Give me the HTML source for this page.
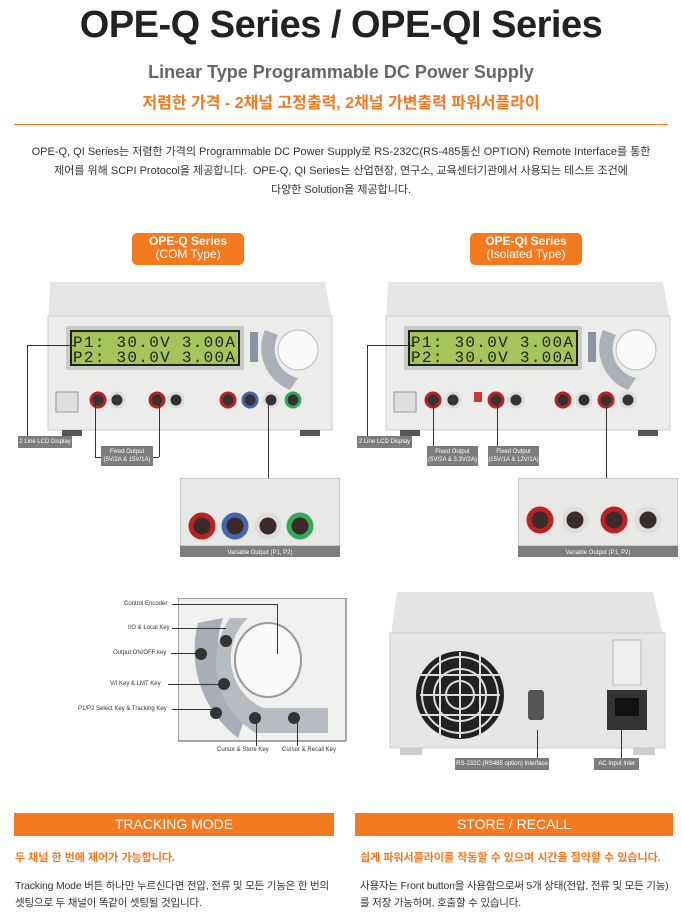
<!DOCTYPE html>
<html><head><meta charset="utf-8"><style>
body{margin:0;width:682px;height:919px;background:#fff;position:relative;overflow:hidden;font-family:"Liberation Sans","Noto Sans CJK KR",sans-serif;}
.a{position:absolute}
.t{text-align:center;left:0;width:682px}
.lbl{position:absolute;background:#7d7d7d;color:#fff;font-size:6px;text-align:center;line-height:8px;padding:2px 0}
.ln{position:absolute;background:#333}
.sm{position:absolute;font-size:6px;color:#333;white-space:nowrap}
.bar{position:absolute;background:#f47a20;color:#fff;font-size:14px;text-align:center;height:23px;line-height:23px}
</style></head><body>
<div class="a t" style="top:4px;font-size:38px;font-weight:bold;color:#222;letter-spacing:-0.5px">OPE-Q Series / OPE-QI Series</div>
<div class="a t" style="top:62px;font-size:18px;font-weight:bold;color:#666">Linear Type Programmable DC Power Supply</div>
<div class="a t" style="top:89px;font-size:16px;font-weight:bold;color:#f47a20">저렴한 가격 - 2채널 고정출력, 2채널 가변출력 파워서플라이</div>
<div class="a" style="left:14px;top:124px;width:654px;height:1px;background:#f47a20"></div>
<div class="a t" style="top:143px;font-size:11px;color:#333;line-height:19px">OPE-Q, QI Series는 저렴한 가격의 Programmable DC Power Supply로 RS-232C(RS-485통신 OPTION) Remote Interface를 통한<br>제어를 위해 SCPI Protocol을 제공합니다.&nbsp; OPE-Q, QI Series는 산업현장, 연구소, 교육센터기관에서 사용되는 테스트 조건에<br>다양한 Solution을 제공합니다.</div>
<div class="a" style="left:132px;top:233px;width:112px;height:30px;background:#f47a20;border-radius:5px;color:#fff;text-align:center;font-size:12px;line-height:13px;padding-top:2px"><b>OPE-Q Series</b><br>(COM Type)</div>
<div class="a" style="left:470px;top:233px;width:112px;height:30px;background:#f47a20;border-radius:5px;color:#fff;text-align:center;font-size:12px;line-height:13px;padding-top:2px"><b>OPE-QI Series</b><br>(Isolated Type)</div>

<svg class="a" style="left:40px;top:280px" width="300" height="160">
<polygon points="10,2 285,2 292,40 8,40" fill="#e6e6e6"/>
<rect x="8" y="36" width="284" height="114" fill="#ececea" stroke="#ccc"/>
<rect x="26" y="46" width="178" height="44" fill="#c9c9c6"/>
<rect x="30" y="50" width="170" height="36" fill="#202020"/>
<rect x="32" y="52" width="166" height="32" fill="#a6c45a"/>
<text x="33" y="67" font-family="Liberation Mono" font-size="16" fill="#222" textLength="162">P1: 30.0V 3.00A</text>
<text x="33" y="82" font-family="Liberation Mono" font-size="16" fill="#222" textLength="162">P2: 30.0V 3.00A</text>
<rect x="210" y="52" width="8" height="30" fill="#8a93a0"/>
<path d="M225 50 A45 45 0 0 0 250 110 L258 98 A30 30 0 0 1 238 55Z" fill="#a9b0b8"/>
<circle cx="258" cy="70" r="20" fill="#fafafa" stroke="#bbb"/>
<rect x="16" y="112" width="22" height="20" fill="#ddd" stroke="#999"/>
<g stroke-width="3"><circle cx="58" cy="120" r="7" fill="#333" stroke="#b22"/><circle cx="77" cy="120" r="7" fill="#333" stroke="#ddd"/>
<circle cx="117" cy="120" r="7" fill="#333" stroke="#b22"/><circle cx="136" cy="120" r="7" fill="#333" stroke="#ddd"/>
<circle cx="188" cy="120" r="7" fill="#333" stroke="#b22"/><circle cx="210" cy="120" r="7" fill="#333" stroke="#46a"/><circle cx="231" cy="120" r="7" fill="#333" stroke="#ddd"/><circle cx="253" cy="120" r="7" fill="#333" stroke="#3a5"/></g>
<rect x="22" y="150" width="20" height="6" fill="#555"/><rect x="260" y="150" width="20" height="6" fill="#555"/>
</svg>
<svg class="a" style="left:378px;top:280px" width="300" height="160">
<polygon points="10,2 285,2 292,40 8,40" fill="#e6e6e6"/>
<rect x="8" y="36" width="284" height="114" fill="#ececea" stroke="#ccc"/>
<rect x="26" y="46" width="178" height="44" fill="#c9c9c6"/>
<rect x="30" y="50" width="170" height="36" fill="#202020"/>
<rect x="32" y="52" width="166" height="32" fill="#a6c45a"/>
<text x="33" y="67" font-family="Liberation Mono" font-size="16" fill="#222" textLength="162">P1: 30.0V 3.00A</text>
<text x="33" y="82" font-family="Liberation Mono" font-size="16" fill="#222" textLength="162">P2: 30.0V 3.00A</text>
<rect x="210" y="52" width="8" height="30" fill="#8a93a0"/>
<path d="M225 50 A45 45 0 0 0 250 110 L258 98 A30 30 0 0 1 238 55Z" fill="#a9b0b8"/>
<circle cx="258" cy="70" r="20" fill="#fafafa" stroke="#bbb"/>
<rect x="16" y="112" width="22" height="20" fill="#ddd" stroke="#999"/>
<g stroke-width="3"><circle cx="55" cy="120" r="7" fill="#333" stroke="#b22"/><circle cx="75" cy="120" r="7" fill="#333" stroke="#ddd"/>
<rect x="96" y="112" width="8" height="10" fill="#c33"/>
<circle cx="118" cy="120" r="7" fill="#333" stroke="#b22"/><circle cx="138" cy="120" r="7" fill="#333" stroke="#ddd"/>
<circle cx="185" cy="120" r="7" fill="#333" stroke="#b22"/><circle cx="206" cy="120" r="7" fill="#333" stroke="#ddd"/><circle cx="228" cy="120" r="7" fill="#333" stroke="#b22"/><circle cx="250" cy="120" r="7" fill="#333" stroke="#ddd"/></g>
<rect x="22" y="150" width="20" height="6" fill="#555"/><rect x="260" y="150" width="20" height="6" fill="#555"/>
</svg>
<div class="ln" style="left:27px;top:345px;width:48px;height:1px"></div><div class="ln" style="left:27px;top:345px;width:1px;height:91px"></div>
<div class="lbl" style="left:18px;top:436px;width:54px">2 Line LCD Display</div>
<div class="ln" style="left:95px;top:400px;width:1px;height:57px"></div><div class="ln" style="left:95px;top:457px;width:6px;height:1px"></div>
<div class="ln" style="left:159px;top:400px;width:1px;height:57px"></div><div class="ln" style="left:153px;top:457px;width:6px;height:1px"></div>
<div class="lbl" style="left:101px;top:446px;width:52px">Fixed Output<br>(5V/2A &amp; 15V/1A)</div>
<div class="ln" style="left:268px;top:398px;width:1px;height:80px"></div>
<div class="ln" style="left:367px;top:345px;width:48px;height:1px"></div><div class="ln" style="left:367px;top:345px;width:1px;height:91px"></div>
<div class="lbl" style="left:357px;top:436px;width:55px">2 Line LCD Display</div>
<div class="ln" style="left:433px;top:400px;width:1px;height:47px"></div>
<div class="lbl" style="left:427px;top:446px;width:51px">Fixed Output<br>(5V/2A &amp; 3.3V/2A)</div>
<div class="ln" style="left:497px;top:400px;width:1px;height:47px"></div>
<div class="lbl" style="left:488px;top:446px;width:51px">Fixed Output<br>(15V/1A &amp; 12V/1A)</div>
<div class="ln" style="left:606px;top:400px;width:1px;height:78px"></div>
<svg class="a" style="left:180px;top:478px" width="160" height="80">
<rect width="160" height="68" fill="#e8e8e6" stroke="#aaa"/>
<g stroke-width="5"><circle cx="22" cy="48" r="11" fill="#3a2a2a" stroke="#b22"/><circle cx="55" cy="48" r="11" fill="#3a2a2a" stroke="#46a"/><circle cx="88" cy="48" r="11" fill="#3a2a2a" stroke="#ddd"/><circle cx="120" cy="48" r="11" fill="#3a2a2a" stroke="#3a5"/></g>
<rect y="68" width="160" height="11" fill="#7d7d7d"/>
<text x="80" y="76" font-size="6" fill="#fff" text-anchor="middle">Variable Output (P1, P2)</text>
</svg>
<svg class="a" style="left:518px;top:478px" width="160" height="80">
<rect width="160" height="68" fill="#e8e8e6" stroke="#aaa"/>
<g stroke-width="5"><circle cx="22" cy="42" r="11" fill="#3a2a2a" stroke="#b22"/><circle cx="57" cy="42" r="11" fill="#3a2a2a" stroke="#ddd"/><circle cx="96" cy="42" r="11" fill="#3a2a2a" stroke="#b22"/><circle cx="130" cy="42" r="11" fill="#3a2a2a" stroke="#ddd"/></g>
<rect y="68" width="160" height="11" fill="#7d7d7d"/>
<text x="80" y="76" font-size="6" fill="#fff" text-anchor="middle">Variable Output (P1, P2)</text>
</svg>
<svg class="a" style="left:178px;top:598px" width="170" height="145">
<rect x="0" y="0" width="168" height="143" fill="#f0f0ee" stroke="#555"/>
<path d="M20 25 A110 110 0 0 0 60 140 L70 110 A80 80 0 0 1 45 20Z" fill="#a8aeb5"/>
<path d="M52 20 A80 80 0 0 0 78 135 L150 135 L150 110 L85 110 A55 55 0 0 1 70 20Z" fill="#b6bcc2"/>
<ellipse cx="90" cy="62" rx="33" ry="37" fill="#fafafa" stroke="#999" stroke-width="2"/>
<circle cx="48" cy="43" r="6" fill="#333"/><circle cx="23" cy="56" r="6" fill="#333"/><circle cx="46" cy="86" r="6" fill="#333"/><circle cx="38" cy="115" r="6" fill="#333"/><circle cx="77" cy="120" r="6" fill="#333"/><circle cx="116" cy="120" r="6" fill="#333"/>
</svg>
<div class="sm" style="left:124px;top:601px">Control Encoder</div><div class="ln" style="left:172px;top:604px;width:105px;height:1px"></div><div class="ln" style="left:277px;top:604px;width:1px;height:50px"></div>
<div class="sm" style="left:128px;top:625px">I/O &amp; Local Key</div><div class="ln" style="left:172px;top:628px;width:54px;height:1px"></div>
<div class="sm" style="left:113px;top:650px">Output ON/OFF key</div><div class="ln" style="left:171px;top:653px;width:30px;height:1px"></div>
<div class="sm" style="left:110px;top:681px">V/I Key &amp; LMT Key</div><div class="ln" style="left:168px;top:684px;width:56px;height:1px"></div>
<div class="sm" style="left:78px;top:706px">P1/P2 Select Key &amp; Tracking Key</div><div class="ln" style="left:172px;top:709px;width:44px;height:1px"></div>
<div class="ln" style="left:256px;top:716px;width:1px;height:30px"></div><div class="ln" style="left:297px;top:716px;width:1px;height:30px"></div>
<div class="sm" style="left:217px;top:747px">Cursor &amp; Store Key</div><div class="sm" style="left:282px;top:747px">Cursor &amp; Recall Key</div>
<svg class="a" style="left:385px;top:590px" width="285" height="165">
<polygon points="12,2 268,2 278,45 6,45" fill="#e4e4e4"/>
<rect x="5" y="43" width="275" height="115" fill="#e6e6e4" stroke="#ccc"/>
<circle cx="75" cy="105" r="44" fill="#222"/>
<g stroke="#ddd" stroke-width="2" fill="none"><circle cx="75" cy="105" r="38"/><circle cx="75" cy="105" r="26"/><circle cx="75" cy="105" r="14"/><line x1="35" y1="85" x2="115" y2="85"/><line x1="35" y1="105" x2="115" y2="105"/><line x1="35" y1="125" x2="115" y2="125"/><line x1="55" y1="65" x2="55" y2="145"/><line x1="75" y1="62" x2="75" y2="148"/><line x1="95" y1="65" x2="95" y2="145"/></g>
<rect x="143" y="100" width="16" height="30" rx="3" fill="#555"/>
<rect x="222" y="100" width="40" height="40" fill="#333"/><rect x="230" y="108" width="24" height="18" fill="#111"/>
<rect x="228" y="50" width="28" height="45" fill="#eee" stroke="#bbb"/>
<rect x="15" y="158" width="22" height="7" fill="#ccc"/><rect x="248" y="158" width="22" height="7" fill="#ccc"/>
</svg>
<div class="ln" style="left:537px;top:730px;width:1px;height:28px"></div><div class="ln" style="left:621px;top:722px;width:1px;height:36px"></div>
<div class="lbl" style="left:455px;top:758px;width:94px">RS-232C (RS485 option) Interface</div>
<div class="lbl" style="left:594px;top:758px;width:45px">AC Input Inlet</div>
<div class="bar" style="left:14px;top:813px;width:320px">TRACKING MODE</div>
<div class="bar" style="left:355px;top:813px;width:318px">STORE / RECALL</div>
<div class="a" style="left:15px;top:849px;font-size:11px;font-weight:bold;color:#f47a20">두 채널 한 번에 제어가 가능합니다.</div>
<div class="a" style="left:360px;top:849px;font-size:11px;font-weight:bold;color:#f47a20">쉽게 파워서플라이를 작동할 수 있으며 시간을 절약할 수 있습니다.</div>
<div class="a" style="left:15px;top:878px;font-size:10.5px;color:#333;line-height:17px;white-space:nowrap;letter-spacing:-0.2px">Tracking Mode 버튼 하나만 누르신다면 전압, 전류 및 모든 기능은 한 번의<br>셋팅으로 두 채널이 똑같이 셋팅될 것입니다.</div>
<div class="a" style="left:360px;top:878px;font-size:10.5px;color:#333;line-height:17px;white-space:nowrap;letter-spacing:-0.2px">사용자는 Front button을 사용함으로써 5개 상태(전압, 전류 및 모든 기능)<br>를 저장 가능하며, 호출할 수 있습니다.</div>
</body></html>
